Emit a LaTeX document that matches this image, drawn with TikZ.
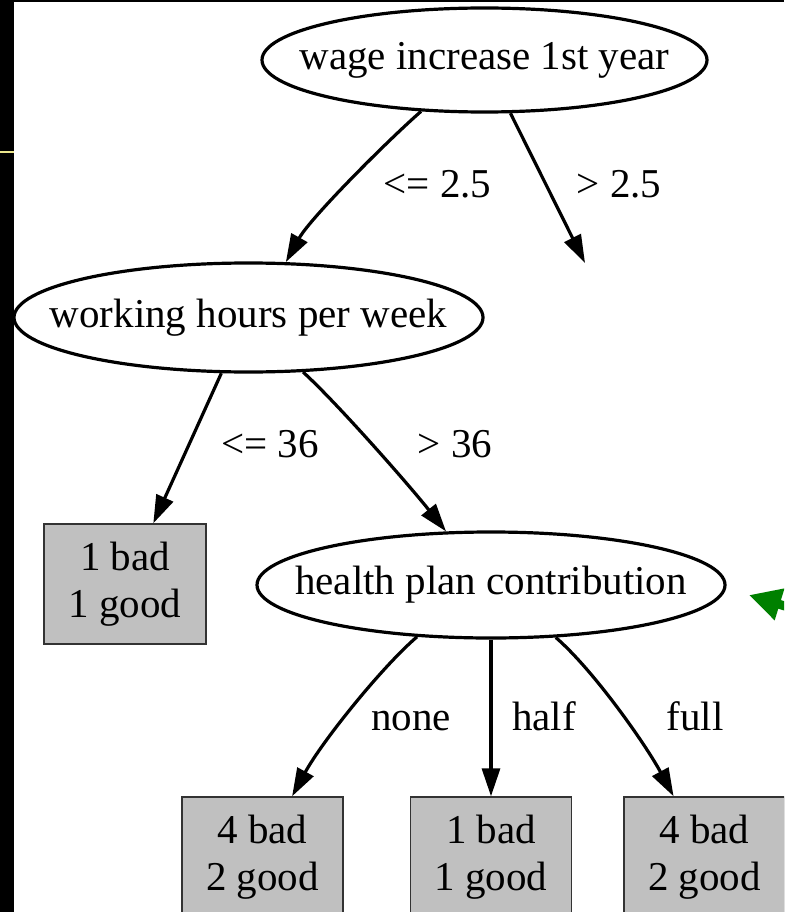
\documentclass[tikz,border=0pt]{standalone}
\usepackage{fontspec}
\setmainfont{Liberation Serif}
\usetikzlibrary{arrows.meta,shapes.geometric}
\definecolor{ylw}{RGB}{235,230,140}
\definecolor{grn}{RGB}{0,128,0}
\definecolor{leafgray}{RGB}{192,192,192}
\begin{document}
\begin{tikzpicture}[x=1pt,y=-1pt,
  every node/.style={font=\fontsize{41}{47}\selectfont},
  split/.style={ellipse, draw, line width=3.2pt, inner sep=0pt, fill=white},
  leaf/.style={rectangle, draw=black!80, line width=1.4pt, fill=leafgray,
    minimum width=161pt, minimum height=120pt, inner sep=0pt, align=center},
  edge/.style={line width=3.2pt, -{Triangle[length=28pt,width=18pt]}},
  lbl/.style={anchor=base, inner sep=0pt},
  pointer/.style={grn, line width=9pt, -{Triangle[length=32pt,width=31pt]}}]
\useasboundingbox (0,0) rectangle (784,912);
\clip (0,0) rectangle (784,912);
\fill[white] (0,0) rectangle (784,912);
\fill[black] (0,0) rectangle (13.5,912);
\fill[black] (0,0) rectangle (784,2.5);
\draw[ylw, line width=1.8pt] (0,152) -- (13.5,152);

% split nodes
\node[split, minimum width=445pt, minimum height=104pt] (wage) at (484.5,60) {\makebox[0pt]{wage increase 1st year}};
\node[split, minimum width=469pt, minimum height=109pt] (work) at (248.5,317.5) {\makebox[0pt]{working hours per week}};
\node[split, minimum width=468pt, minimum height=106pt] (health) at (491,585) {\makebox[0pt]{health plan contribution}};

% leaves
\node[leaf, minimum width=162pt] (l1) at (125,584) {1 bad\\1 good};
\node[leaf] (l2) at (262.5,857) {4 bad\\2 good};
\node[leaf] (l3) at (491,857) {1 bad\\1 good};
\node[leaf] (l4) at (704.5,857) {4 bad\\2 good};

\coordinate (gt) at (585,263);

% edges
\draw[edge] (wage.-141) .. controls +(-30,26) and +(25,-45) .. (work.56);
\draw[edge] (wage.-64) -- (gt);
\draw[edge] (work.-116) -- (l1.65);
\draw[edge] (work.-45.5) .. controls +(32,29) and +(-40,-50) .. (health.130);
\draw[edge] (health.-145) .. controls +(-35,30) and +(30,-55) .. (l2.64);
\draw[edge] (health.south) -- (l3.north);
\draw[edge] (health.-39.5) .. controls +(38,33) and +(-28,-52) .. (l4.117);

% edge labels
\node[lbl] (a1) at (437.5,197) {<= 2.5};
\node[lbl] (a2) at (619,197) {> 2.5};
\node[lbl] (b1) at (270,457) {<= 36};
\node[lbl] (b2) at (455,457) {> 36};
\node[lbl] (c1) at (411,730) {none};
\node[lbl] (c2) at (544,730) {half};
\node[lbl] (c3) at (695,730) {full};

% green pointer
\coordinate (gs) at (840,623);
\coordinate (ge) at (749,595);
\draw[pointer] (gs) -- (ge);
\end{tikzpicture}
\end{document}
